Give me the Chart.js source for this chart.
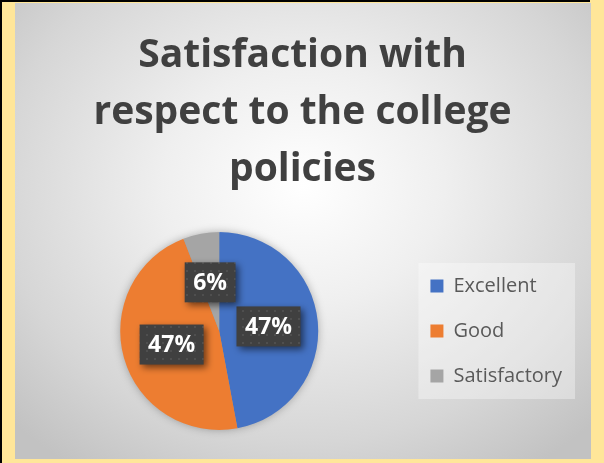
<!DOCTYPE html>
<html>
<head>
<meta charset="utf-8">
<script src="https://cdn.jsdelivr.net/npm/chart.js@4.4.1/dist/chart.umd.min.js"></script>
<style>
  html, body { margin: 0; padding: 0; }
  body { width: 604px; height: 463px; background: #FFE699; position: relative; overflow: hidden; }
  #topline { position: absolute; left: 0; top: 0; width: 590px; height: 2px; background: #000; }
  #leftline { position: absolute; left: 0; top: 0; width: 2px; height: 463px; background: #000; }
  #box {
    position: absolute; left: 15px; top: 3px; width: 576px; height: 456px;
    background: radial-gradient(ellipse 70% 75% at 50% 40%, #ffffff 0%, #efefef 35%, #d6d6d6 75%, #c2c2c2 100%);
  }
  canvas { display: block; }
</style>
</head>
<body>
<div id="topline"></div>
<div id="leftline"></div>
<div id="box"><canvas id="c" width="576" height="456"></canvas></div>
<script>
const titleLines = ['Satisfaction with', 'respect to the college', 'policies'];
const categories = ['Excellent', 'Good', 'Satisfactory'];
const values = [16, 16, 2];
const sliceColors = ['#4472C4', '#ED7D31', '#A5A5A5'];

const total = values.reduce((a, b) => a + b, 0);
const pctLabels = values.map(v => Math.round(v / total * 100) + '%');

// dotted pattern for the data label boxes
const tile = document.createElement('canvas');
tile.width = 8; tile.height = 8;
const tctx = tile.getContext('2d');
tctx.fillStyle = '#404040'; tctx.fillRect(0, 0, 8, 8);
tctx.fillStyle = '#4f4f4f'; tctx.fillRect(3, 3, 2, 2);

const pieShadow = {
  id: 'pieShadow',
  beforeDatasetsDraw(chart) {
    const arc = chart.getDatasetMeta(0).data[0];
    if (!arc) return;
    const { x, y, outerRadius } = arc.getProps(['x', 'y', 'outerRadius'], true);
    const ctx = chart.ctx;
    ctx.save();
    ctx.shadowColor = 'rgba(0,0,0,0.35)';
    ctx.shadowBlur = 10;
    ctx.fillStyle = '#999';
    ctx.beginPath(); ctx.arc(x, y, outerRadius - 1, 0, Math.PI * 2); ctx.fill();
    ctx.restore();
  }
};

const legendBg = {
  id: 'legendBg',
  beforeDraw(chart) {
    const lg = chart.legend;
    if (!lg || !lg.legendHitBoxes || !lg.legendHitBoxes.length) return;
    const hb = lg.legendHitBoxes;
    const first = hb[0], last = hb[hb.length - 1];
    const ctx = chart.ctx;
    ctx.save();
    ctx.fillStyle = 'rgba(255,255,255,0.35)';
    const l = first.left - 12, t = first.top - 13;
    ctx.fillRect(l, t, lg.right + 3 - l, last.top + last.height + 13 - t);
    ctx.restore();
  }
};

const dataLabels = {
  id: 'dataLabels',
  afterDatasetsDraw(chart) {
    const ctx = chart.ctx;
    const meta = chart.getDatasetMeta(0);
    const pattern = ctx.createPattern(tile, 'repeat');
    ctx.save();
    ctx.font = 'bold 23px "Open Sans"';
    ctx.textAlign = 'center';
    ctx.textBaseline = 'middle';
    meta.data.forEach((arc, i) => {
      const p = arc.getCenterPoint();
      const txt = pctLabels[i];
      const w = ctx.measureText(txt).width + 17;
      const h = 40;
      ctx.save();
      ctx.shadowColor = 'rgba(0,0,0,0.55)';
      ctx.shadowBlur = 7;
      ctx.shadowOffsetX = 3;
      ctx.shadowOffsetY = 3;
      ctx.fillStyle = pattern;
      ctx.fillRect(p.x - w / 2, p.y - h / 2, w, h);
      ctx.restore();
      ctx.fillStyle = '#ffffff';
      ctx.fillText(txt, p.x, p.y + 1);
    });
    ctx.restore();
  }
};

new Chart(document.getElementById('c'), {
  type: 'pie',
  data: {
    labels: categories,
    datasets: [{ data: values, backgroundColor: sliceColors, borderWidth: 0 }]
  },
  options: {
    responsive: false,
    animation: false,
    events: [],
    layout: { padding: { left: 18, right: 19, top: 0, bottom: 29 } },
    plugins: {
      tooltip: { enabled: false },
      title: {
        display: true,
        text: titleLines,
        color: '#404040',
        font: { family: '"Open Sans"', weight: 'bold', size: 39, lineHeight: '57px' },
        padding: { top: 24, bottom: 34 }
      },
      legend: {
        position: 'right',
        fullSize: false,
        labels: {
          color: '#595959',
          font: { family: '"Open Sans"', size: 20 },
          boxWidth: 13,
          boxHeight: 13,
          padding: 25
        }
      }
    }
  },
  plugins: [legendBg, pieShadow, dataLabels]
});
</script>
</body>
</html>
